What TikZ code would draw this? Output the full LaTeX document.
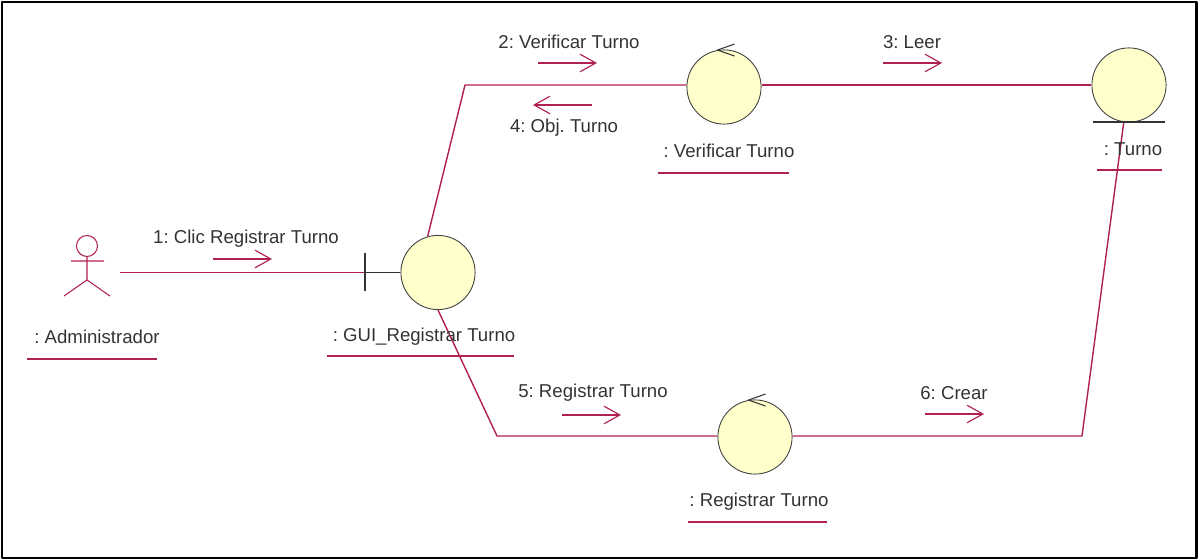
\documentclass[tikz,border=0pt]{standalone}
\usepackage{fontspec}
\setmainfont{Liberation Sans}
\usetikzlibrary{arrows.meta}
\definecolor{rosered}{RGB}{176,32,84}
\definecolor{robust}{RGB}{255,255,204}
\tikzset{
  lnk/.style={draw=rosered,line width=.8pt},
  msg/.style={draw=rosered,line width=.65pt,-{Straight Barb[length=9pt,width=10pt,line width=.65pt]}},
  obj/.style={circle,draw=black!75,fill=robust,line width=.5pt,minimum size=2.12cm*.7,inner sep=0pt},
  lbl/.style={font=\fontsize{10.6}{12}\selectfont\frenchspacing,text=black!80,inner sep=0pt},
  stereo/.style={draw=black!80,line width=.6pt}
}
\begin{document}
\begin{tikzpicture}[x=.02cm,y=-.02cm,line join=round]
\useasboundingbox (0,0) rectangle (1198,560);
\draw[line width=1.7pt] (2,2) rectangle (1196,558);
% objects
\node[obj] (gui) at (438,272.5) {};
\node[obj] (verificar) at (724,87) {};
\node[obj] (registrar) at (755,437) {};
\node[obj] (turno) at (1129,85) {};
\coordinate (admin) at (120,272.5);
\coordinate (guibar) at (365,272.5);
\coordinate (bendA) at (465,85);
\coordinate (bendB) at (497,436);
\coordinate (bendC) at (1082,436);
% actor
\node[circle,draw=rosered,line width=.6pt,minimum size=.42cm,inner sep=0pt] (head) at (87,246) {};
\draw[draw=rosered,line width=.6pt] (head.south)--(87,280)--(64,296) (87,280)--(110,296) (71,261)--(104,261);
% links
\draw[lnk] (admin)--(guibar);
\draw[lnk] (gui.106)--(bendA)--(verificar.west |- bendA);
\draw[lnk] (verificar.east |- bendA)--(turno.west |- bendA);
\draw[lnk] (gui.south)--(bendB)--(registrar.west |- bendB);
\draw[lnk] (registrar.east |- bendB)--(bendC)--(turno.262);
% stereotypes
\draw[stereo] (guibar)++(0,-19)--++(0,38) (guibar)--(gui.west);
\draw[stereo] (1093,122)--(1165,122);
\draw[stereo] (verificar.100)++(17,-6)--(verificar.100)--++(17,6);
\draw[stereo] (registrar.100)++(17,-6)--(registrar.100)--++(17,6);
% messages
\node[lbl] (m1) at (246,238.5) {1: Clic Registrar Turno};
\node[lbl] (m2) at (569,42) {2: Verificar Turno};
\node[lbl] (m3) at (912,42) {3: Leer};
\node[lbl] (m4) at (564,128) {4: Obj. Turno};
\node[lbl] (m5) at (593,393) {5: Registrar Turno};
\node[lbl] (m6) at (954,393) {6: Crear};
\foreach \xa/\xb/\yy in {213/272/259,538/597/63,592/533/105,883/942/63,562/621/415,925/984/414}
  \draw[msg] (\xa,\yy)--(\xb,\yy);
% names
\node[lbl] (nadmin) at (97,337) {: Administrador};
\node[lbl] (ngui) at (424,337) {: GUI\_Registrar Turno};
\node[lbl] (nverificar) at (729,151) {: Verificar Turno};
\node[lbl] (nturno) at (1133,149) {: Turno};
\node[lbl] (nregistrar) at (759,502) {: Registrar Turno};
\draw[lnk] (27,359)--(157,359) (327,356)--(514,356) (658,173)--(789,173) (1097,170)--(1162,170) (688,522)--(827,522);
\end{tikzpicture}
\end{document}
